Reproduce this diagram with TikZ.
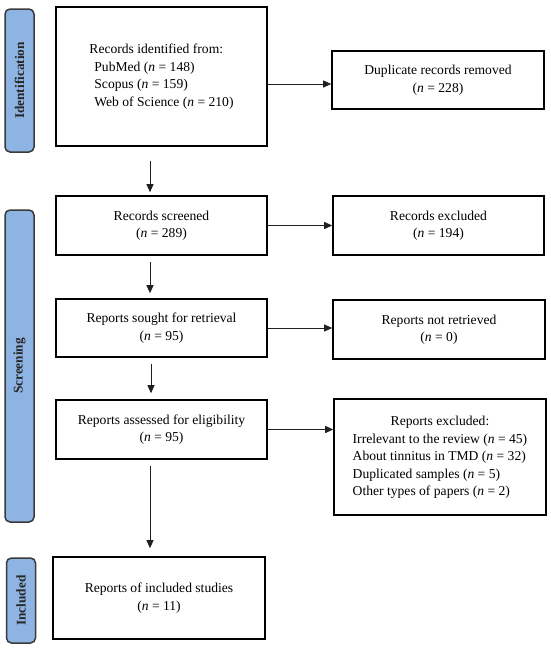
\documentclass[tikz,border=0pt]{standalone}
\usepackage{fontspec}
\setmainfont{Liberation Serif}
\usetikzlibrary{arrows.meta,calc}
\definecolor{sideblue}{HTML}{8EB4E3}
\definecolor{sideedge}{HTML}{3A3A3A}
\definecolor{arrgray}{HTML}{202020}
\begin{document}
\begin{tikzpicture}[x=1pt,y=-1pt,
  box/.style={draw=black,line width=1.6pt,minimum width=211pt,inner sep=0pt,align=center,
    font=\fontsize{13.6}{17.5}\selectfont},
  side/.style={draw=sideedge,fill=sideblue,line width=1.5pt,rounded corners=5pt,
    minimum width=29pt,inner sep=0pt,text=black!85},
  sidetext/.style={rotate=90,font=\fontsize{13.3}{15}\selectfont\bfseries,text=black!85},
  arr/.style={draw=arrgray,line width=0.9pt,-{Triangle[length=8pt,width=7pt]}}]
\useasboundingbox (0,0) rectangle (550,649);
% side labels
\node[side,minimum height=143pt] (sid) at (19.5,80.5) {};
\node[sidetext] (sidt) at (sid.center) {Identification};
\node[side,minimum height=312pt] (sscr) at (19.5,366) {};
\node[sidetext] (sscrt) at (sscr.center) {Screening};
\node[side,minimum height=85pt] (sinc) at (21,600.5) {};
\node[sidetext] (sinct) at (sinc.center) {Included};
% left column
\node[box,minimum height=139pt] (b1) at (161.5,76.5) {%
  \begin{tabular}{@{}l@{}}Records identified from:\\
  \hspace{5pt}PubMed (\textit{n} = 148)\\
  \hspace{5pt}Scopus (\textit{n} = 159)\\
  \hspace{5pt}Web of Science (\textit{n} = 210)\end{tabular}};
\node[box,minimum height=59pt] (b2) at (161.5,225.5) {Records screened\\(\textit{n} = 289)};
\node[box,minimum height=58pt] (b3) at (161.5,328) {Reports sought for retrieval\\(\textit{n} = 95)};
\node[box,minimum height=59pt] (b4) at (161.5,429.5) {Reports assessed for eligibility\\(\textit{n} = 95)};
\node[box,minimum width=212pt,minimum height=82pt] (b5) at (159,598) {Reports of included studies\\(\textit{n} = 11)};
% right column
\node[box,minimum width=212pt,minimum height=58pt] (dup) at (438,80) {Duplicate records removed\\(\textit{n} = 228)};
\node[box,minimum width=211pt,minimum height=59pt] (exc) at (438.5,225.5) {Records excluded\\(\textit{n} = 194)};
\node[box,minimum width=212pt,minimum height=59pt] (nr) at (439,329.5) {Reports not retrieved\\(\textit{n} = 0)};
\node[box,minimum width=212pt,minimum height=116pt] (rex) at (440,457) {%
  \begin{tabular}{@{}l@{}}\multicolumn{1}{@{}c@{}}{Reports excluded:}\\
  Irrelevant to the review (\textit{n} = 45)\\
  About tinnitus in TMD (\textit{n} = 32)\\
  Duplicated samples (\textit{n} = 5)\\
  Other types of papers (\textit{n} = 2)\end{tabular}};
% horizontal arrows
\draw[arr] ([yshift=-7.5pt]b1.east) -- ([yshift=-7.5pt]b1.east -| dup.west);
\draw[arr] (b2.east) -- (b2.east -| exc.west);
\draw[arr] (b3.east) -- (b3.east -| nr.west);
\draw[arr] (b4.east) -- (b4.east -| rex.west);
% vertical arrows
\draw[arr] ([xshift=-11.5pt,yshift=-14pt]b1.south) -- ([xshift=-11.5pt,yshift=3pt]b2.north);
\draw[arr] ([xshift=-11.5pt,yshift=-6pt]b2.south) -- ([xshift=-11.5pt,yshift=5pt]b3.north);
\draw[arr] ([xshift=-10.5pt,yshift=-6pt]b3.south) -- ([xshift=-10.5pt,yshift=6pt]b4.north);
\draw[arr] ([xshift=-11.5pt,yshift=-6pt]b4.south) -- ([xshift=-9pt,yshift=8pt]b5.north);
\end{tikzpicture}
\end{document}
